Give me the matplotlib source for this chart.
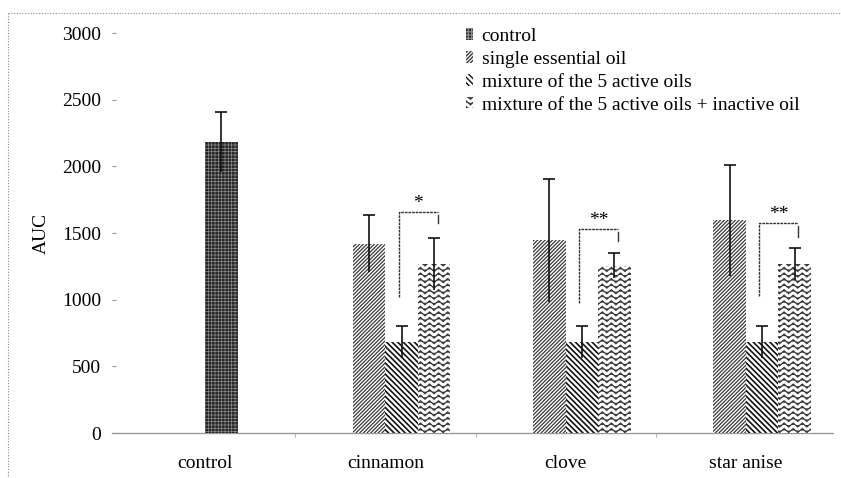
import warnings
warnings.filterwarnings("ignore")
import numpy as np
import matplotlib
matplotlib.use("Agg")
import matplotlib.pyplot as plt
import matplotlib.hatch as mhatch
from matplotlib.path import Path
from matplotlib.lines import Line2D

# ---------------- data ----------------
categories = ["control", "cinnamon", "clove", "star anise"]
series_labels = ["control", "single essential oil", "mixture of the 5 active oils",
                 "mixture of the 5 active oils + inactive oil"]
control_value = [2180]
control_err = [225]
single_values = [1420, 1445, 1595]
single_err = [212, 460, 418]
mixture_values = [680, 680, 680]
mixture_err = [120, 120, 120]
inactive_values = [1268, 1255, 1268]
inactive_err = [197, 95, 117]
sig_labels = ["*", "**", "**"]
sig_left_bottom = [1020, 977, 1028]
sig_top = [1658, 1528, 1573]
sig_right_bottom = [1575, 1442, 1470]
yticks = [0, 500, 1000, 1500, 2000, 2500, 3000]


# ---------------- custom wave hatch ----------------
class WaveHatch(mhatch.HatchPatternBase):
    def __init__(self, hatch, density):
        self.num_rows = int(hatch.count('~') * density)
        self.num_periods = 11
        self.sub = 4
        self.pts = self.sub * self.num_periods + 1
        self.num_vertices = self.num_rows * self.pts if self.num_rows else 0

    def set_vertices_and_codes(self, vertices, codes):
        rows = (np.arange(self.num_rows) + 0.5) / self.num_rows
        xs = np.linspace(0.0, 1.0, self.pts)
        amp = 0.02 * np.sin(2 * np.pi * self.num_periods * xs)
        for i, r in enumerate(rows):
            sl = slice(i * self.pts, (i + 1) * self.pts)
            vertices[sl, 0] = xs
            vertices[sl, 1] = r + amp
            codes[sl] = Path.LINETO
            codes[i * self.pts] = Path.MOVETO


mhatch._hatch_types.append(WaveHatch)

plt.rcParams['font.family'] = ['Liberation Serif', 'DejaVu Serif']
plt.rcParams['font.size'] = 14

W, H = 841, 478
fig = plt.figure(figsize=(W / 100, H / 100), dpi=100)
ax = fig.add_axes([112 / W, 1 - 433 / H, (833 - 112) / W, (433 - 33) / H])

x = np.arange(len(categories))
w = 0.18


def hatched_bar(xpos, vals, hatch, face, hcol, hlw, label):
    with plt.rc_context({'hatch.linewidth': hlw, 'hatch.color': hcol}):
        bars = ax.bar(xpos, vals, width=w, color=face, edgecolor=hcol,
                      linewidth=0, hatch=hatch, label=label, zorder=3)
    for b in bars:
        try:
            b.set_hatch_linewidth(hlw)
        except Exception:
            pass
    return bars


b_ctrl = hatched_bar(x[:1] + 0.5 * w, control_value, '+++++', '#262626', '#8a8a8a', 0.5,
                     series_labels[0])
b_single = hatched_bar(x[1:] - 0.5 * w, single_values, '/' * 9, 'white', '#3a3a3a', 0.9,
                       series_labels[1])
b_mix = hatched_bar(x[1:] + 0.5 * w, mixture_values, '\\' * 6, 'white', '#111111', 1.2,
                    series_labels[2])
b_inact = hatched_bar(x[1:] + 1.5 * w, inactive_values, '~~~', 'white', '#3a3a3a', 0.9,
                      series_labels[3])


def errbars(xpos, vals, errs):
    eb = ax.errorbar(xpos, vals, yerr=errs, fmt='none', ecolor='#111111',
                     elinewidth=1.2, capsize=4, capthick=1.2, zorder=4)
    caps = eb[1]
    if len(caps) >= 1:
        caps[0].set_visible(False)


errbars(x[:1] + 0.5 * w, control_value, control_err)
errbars(x[1:] - 0.5 * w, single_values, single_err)
errbars(x[1:] + 0.5 * w, mixture_values, mixture_err)
errbars(x[1:] + 1.5 * w, inactive_values, inactive_err)

# significance brackets
for i in range(len(sig_labels)):
    xl = x[1 + i] + 0.5 * w - 0.015
    xr = x[1 + i] + 1.5 * w + 0.02
    ax.plot([xl, xl, xr], [sig_left_bottom[i], sig_top[i], sig_top[i]],
            color='#333333', lw=1.0, ls=(0, (2, 0.6)), zorder=5)
    ax.plot([xr, xr], [sig_top[i] - 20, sig_right_bottom[i]],
            color='#333333', lw=1.0, zorder=5)
    ax.text((xl + xr) / 2, sig_top[i], sig_labels[i], ha='center', va='bottom',
            fontsize=14, zorder=6)

ax.set_xlim(-0.5 - 0.017, 3.5 - 0.017)
ax.set_ylim(0, 3000)
ax.set_yticks(yticks)
ax.set_xticks(x)
ax.set_xticklabels(categories)
ax.set_xticks([0.5, 1.5, 2.5], minor=True)
ax.tick_params(axis='x', which='major', length=0, pad=16)
ax.tick_params(axis='x', which='minor', length=3, color='#aaaaaa', direction='out')
ax.tick_params(axis='y', length=3, color='#999999', direction='in', pad=8)

for s in ['top', 'right', 'left']:
    ax.spines[s].set_visible(False)
ax.spines['bottom'].set_color('#999999')
ax.spines['bottom'].set_linestyle((0, (1, 1)))
ax.spines['bottom'].set_linewidth(1.0)
ax.set_facecolor('none')

ax.set_ylabel('AUC', fontsize=14)
ax.yaxis.set_label_coords((50 - 112) / (833 - 112), 0.5)

leg = ax.legend(handles=[b_ctrl, b_single, b_mix, b_inact], labels=series_labels,
                loc='upper left', bbox_to_anchor=(466 / W, 1 - 28 / H),
                bbox_transform=fig.transFigure, frameon=False, fontsize=14,
                handlelength=0.35, handleheight=0.55, handletextpad=0.45,
                labelspacing=0.3, borderpad=0, borderaxespad=0)

# dotted frame around the figure
fig.add_artist(Line2D([8 / W, 8 / W], [0, 1 - 13 / H], transform=fig.transFigure,
                      color='#888888', lw=0.8, ls=(0, (1, 1.5))))
fig.add_artist(Line2D([8 / W, 1], [1 - 13 / H, 1 - 13 / H], transform=fig.transFigure,
                      color='#888888', lw=0.8, ls=(0, (1, 1.5))))

fig.savefig('out.png', dpi=100)
